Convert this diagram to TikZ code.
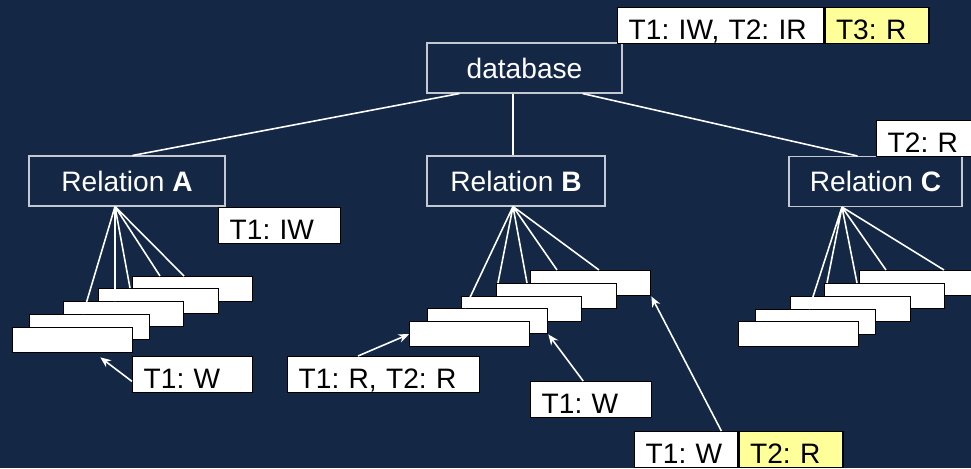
\documentclass[tikz,border=0pt]{standalone}
\usepackage{fontspec}
\setmainfont{Liberation Sans}
\usepackage{tikz}
\usetikzlibrary{arrows.meta,calc}
\definecolor{slideblue}{HTML}{142846}
\definecolor{boxgray}{HTML}{C4C8D0}
\definecolor{lockyellow}{HTML}{FFFF99}
\newcommand{\slidefont}{\fontsize{16}{19}\selectfont\frenchspacing}

\begin{document}
\begin{tikzpicture}[x=0.02cm,y=-0.02cm,
    rel/.style={draw=boxgray,line width=0.6pt,text=white,font=\slidefont,minimum height=1cm,inner sep=0pt},
    rec/.style={draw=black,line width=0.8pt,fill=white,anchor=north west,minimum width=2.4cm,minimum height=0.5cm,inner sep=0pt},
    tag/.style={draw=black,line width=0.8pt,fill=white,anchor=north west,font=\slidefont,align=left,
      inner xsep=0.22cm,inner ysep=0pt,text height=0.64cm,text depth=0.08cm,text width=#1},
    link/.style={white,line width=0.9pt},
    ptr/.style={white,line width=0.9pt,-{Stealth[length=6pt,width=5pt]}}]
  \useasboundingbox (0,0) rectangle (971,468);
  \fill[slideblue] (0,0) rectangle (971,468);

  % tree
  \node[rel,minimum width=3.9cm] (db) at (524.5,68) {database};
  \node[rel,minimum width=3.92cm] (relA) at (127,181) {Relation \textbf{A}};
  \node[rel,minimum width=3.56cm] (relB) at (516,181) {Relation \textbf{B}};
  \node[rel,minimum width=3.46cm] (relC) at (875.5,181.5) {Relation \textbf{C}};
  \draw[link] ($(db.south west)+(33,0)$) -- ($(relA.north west)+(104,0)$);
  \draw[link] ($(db.south)+(-11.5,0)$) -- ($(relB.north)+(-3,0)$);
  \draw[link] ($(db.south east)+(-40,0)$) -- ($(relC.north west)+(69,0)$);
  \coordinate (apxA) at ($(relA.south)+(-12,0)$);
  \coordinate (apxB) at ($(relB.south)+(-3,0)$);
  \coordinate (apxC) at ($(relC.south)+(-33.5,0)$);

  % tuples, back to front
  \node[rec] (a5) at (132,276) {};
  \node[rec] (a4) at (98,288) {};
  \node[rec] (a3) at (63,301) {};
  \node[rec] (a2) at (29,314) {};
  \node[rec] (a1) at (12,327) {};
  \node[rec] (b5) at (530,270) {};
  \node[rec] (b4) at (496,283) {};
  \node[rec] (b3) at (461,296) {};
  \node[rec] (b2) at (427,308) {};
  \node[rec] (b1) at (409,321) {};
  \node[rec] (c5) at (859,270) {};
  \node[rec] (c4) at (824,283) {};
  \node[rec] (c3) at (790,296) {};
  \node[rec] (c2) at (755,309) {};
  \node[rec] (c1) at (738,321) {};
  \draw[link] (apxA) -- ($(a2.north west)+(54,0)$) (apxA) -- ($(a3.north west)+(52,0)$)
    (apxA) -- ($(a4.north west)+(32,0)$) (apxA) -- ($(a5.north west)+(28,0)$)
    (apxA) -- ($(a5.north west)+(52,0)$);
  \draw[link] (apxB) -- ($(b2.north west)+(38,0)$) (apxB) -- ($(b4.north west)+(2,0)$)
    (apxB) -- ($(b4.north west)+(31,0)$) (apxB) -- ($(b5.north west)+(27,0)$)
    (apxB) -- ($(b5.north west)+(69,0)$);
  \draw[link] (apxC) -- ($(c2.north west)+(54,0)$) (apxC) -- ($(c4.north west)+(3,0)$)
    (apxC) -- ($(c4.north west)+(33,0)$) (apxC) -- ($(c5.north west)+(27,0)$)
    (apxC) -- ($(c5.north west)+(85,0)$);

  % locks
  \node[tag=3.68cm] (lockDb) at (617,7) {T1: IW, T2: IR};
  \node[tag=1.64cm,fill=lockyellow] (waitDb) at (lockDb.north east) {T3: R};
  \node[tag=2.00cm] (lockA) at (218,207) {T1: IW};
  \node[tag=1.76cm] (lockC) at (876,120) {T2: R};
  \node[tag=1.96cm] (lockA1) at (132,356) {T1: W};
  \node[tag=3.40cm] (lockB1) at (287,356) {T1: R, T2: R};
  \node[tag=1.98cm] (lockB2) at (530,381) {T1: W};
  \node[tag=1.62cm] (lockB5) at (634,431) {T1: W};
  \node[tag=1.64cm,fill=lockyellow] (waitB5) at (lockB5.north east) {T2: R};

  \draw[ptr] ($(lockA1.south west)+(0,-12)$) -- ($(a1.south east)+(-33,4)$);
  \draw[ptr] ($(lockB1.north west)+(71,0)$) -- (b1.west);
  \draw[ptr] ($(lockB2.north)+(-8,0)$) -- (b2.south east);
  \draw[ptr] ($(lockB5.north east)+(-17,0)$) -- (b5.south east);
\end{tikzpicture}
\end{document}
